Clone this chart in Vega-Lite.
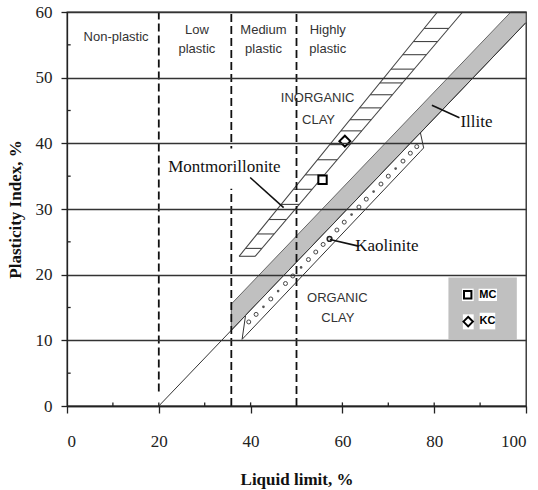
{
  "$schema": "https://vega.github.io/schema/vega-lite/v6.json",
  "width": 459,
  "height": 394,
  "autosize": {"type": "none"},
  "padding": {"left": 67, "top": 12, "right": 12, "bottom": 84},
  "background": "white",
  "config": {
    "view": {"stroke": "#222", "strokeWidth": 1.3}
  },
  "encoding": {
    "x": {
      "field": "LL", "type": "quantitative",
      "scale": {"domain": [0, 100], "nice": false},
      "axis": {
        "values": [0, 20, 40, 60, 80, 100], "title": "Liquid limit, %", "grid": false,
        "tickSize": 7, "tickColor": "#222", "tickWidth": 1.3, "domainColor": "#222", "domainWidth": 1.3,
        "labelFont": "Liberation Serif", "labelFontSize": 17, "labelColor": "#222", "labelPadding": 20,
        "titleFont": "Liberation Serif", "titleFontSize": 17, "titleFontWeight": "bold", "titleColor": "#111", "titlePadding": 22,
        "zindex": 1
      }
    },
    "y": {
      "field": "PI", "type": "quantitative",
      "scale": {"domain": [0, 60], "nice": false},
      "axis": {
        "values": [0, 10, 20, 30, 40, 50, 60], "title": "Plasticity Index, %", "grid": true,
        "gridColor": "#333", "gridWidth": 1.3,
        "tickSize": 6, "tickColor": "#222", "tickWidth": 1.3, "domainColor": "#222", "domainWidth": 1.3,
        "labelFont": "Liberation Serif", "labelFontSize": 17, "labelColor": "#222", "labelPadding": 9,
        "titleFont": "Liberation Serif", "titleFontSize": 17, "titleFontWeight": "bold", "titleColor": "#111", "titlePadding": 11,
        "zindex": 1
      }
    }
  },
  "layer": [
    {
      "data": {"values": [
        {"LL": 35.8, "PI": 11.53, "PI2": 15.53},
        {"LL": 96.7, "PI": 55.99, "PI2": 60},
        {"LL": 100, "PI": 58.4, "PI2": 60}
      ]},
      "mark": {"type": "area", "fill": "#c0c0c0", "stroke": "#666", "strokeWidth": 1},
      "encoding": {"y2": {"field": "PI2"}}
    },
    {
      "data": {"values": [{"LL": 20, "PI": 0}, {"LL": 100, "PI": 58.4}]},
      "mark": {"type": "line", "color": "#333", "strokeWidth": 1}
    },
    {
      "data": {"values": [
        {"LL": 38.15, "PI": 10.15, "PI2": 10.15},
        {"LL": 38.9, "PI": 10.7, "PI2": 13.8},
        {"LL": 77, "PI": 38.78, "PI2": 41.6},
        {"LL": 77.7, "PI": 39.3, "PI2": 39.3}
      ]},
      "mark": {"type": "area", "fill": "white", "stroke": "#333", "strokeWidth": 1},
      "encoding": {"y2": {"field": "PI2"}}
    },
    {
      "data": {"values": [
        {"LL": 39.6, "PI": 12.8}, {"LL": 41.2, "PI": 13.95}, {"LL": 44.4, "PI": 16.3},
        {"LL": 47.6, "PI": 18.65}, {"LL": 49.2, "PI": 19.8}, {"LL": 52.6, "PI": 22.3},
        {"LL": 54.2, "PI": 23.45}, {"LL": 55.8, "PI": 24.6}, {"LL": 58.8, "PI": 26.8},
        {"LL": 60.4, "PI": 28.0}, {"LL": 63.6, "PI": 30.3}, {"LL": 65.2, "PI": 31.5},
        {"LL": 68.4, "PI": 33.8}, {"LL": 70.0, "PI": 35.0}, {"LL": 73.2, "PI": 37.3},
        {"LL": 74.8, "PI": 38.5}, {"LL": 76.2, "PI": 39.5}
      ]},
      "mark": {"type": "point", "shape": "circle", "filled": true, "fill": "white", "stroke": "#444", "strokeWidth": 1, "size": 16, "opacity": 1}
    },
    {
      "data": {"values": [
        {"LL": 42.8, "PI": 15.1}, {"LL": 46.0, "PI": 17.5}, {"LL": 51.0, "PI": 21.1},
        {"LL": 62.0, "PI": 29.15}, {"LL": 66.8, "PI": 32.65}, {"LL": 71.6, "PI": 36.15}
      ]},
      "mark": {"type": "point", "shape": "circle", "filled": true, "color": "#555", "size": 7, "opacity": 1}
    },
    {
      "data": {"values": [{"LL": 57.2, "PI": 25.45}]},
      "mark": {"type": "point", "shape": "circle", "filled": true, "fill": "#ddd", "stroke": "#222", "strokeWidth": 1.5, "size": 22, "opacity": 1}
    },
    {
      "data": {"values": [
        {"LL": 37.5, "PI": 22.8, "LL2": 80.7, "PI2": 60},
        {"LL": 41.0, "PI": 22.8, "LL2": 86.2, "PI2": 60},
        {"LL": 37.5, "PI": 22.8, "LL2": 41.0, "PI2": 22.8},
        {"LL": 38.89, "PI": 24.0, "LL2": 42.46, "PI2": 24.0},
        {"LL": 41.45, "PI": 26.2, "LL2": 45.13, "PI2": 26.2},
        {"LL": 44.0, "PI": 28.4, "LL2": 47.8, "PI2": 28.4},
        {"LL": 46.67, "PI": 30.7, "LL2": 50.6, "PI2": 30.7},
        {"LL": 49.35, "PI": 33.0, "LL2": 53.39, "PI2": 33.0},
        {"LL": 51.9, "PI": 35.2, "LL2": 56.07, "PI2": 35.2},
        {"LL": 54.57, "PI": 37.5, "LL2": 58.86, "PI2": 37.5},
        {"LL": 57.24, "PI": 39.8, "LL2": 61.66, "PI2": 39.8},
        {"LL": 59.68, "PI": 41.9, "LL2": 64.21, "PI2": 41.9},
        {"LL": 61.65, "PI": 43.6, "LL2": 66.27, "PI2": 43.6},
        {"LL": 63.74, "PI": 45.4, "LL2": 68.46, "PI2": 45.4},
        {"LL": 66.07, "PI": 47.4, "LL2": 70.89, "PI2": 47.4},
        {"LL": 68.16, "PI": 49.2, "LL2": 73.08, "PI2": 49.2},
        {"LL": 70.6, "PI": 51.3, "LL2": 75.63, "PI2": 51.3},
        {"LL": 73.15, "PI": 53.5, "LL2": 78.3, "PI2": 53.5},
        {"LL": 75.47, "PI": 55.5, "LL2": 80.73, "PI2": 55.5},
        {"LL": 77.8, "PI": 57.5, "LL2": 83.16, "PI2": 57.5}
      ]},
      "mark": {"type": "rule", "color": "#444", "strokeWidth": 1.1},
      "encoding": {"x2": {"field": "LL2"}, "y2": {"field": "PI2"}}
    },
    {
      "data": {"values": [
        {"LL": 20, "PI": 2.2, "PI2": 60},
        {"LL": 35.8, "PI": 0, "PI2": 60},
        {"LL": 50, "PI": 0, "PI2": 60}
      ]},
      "mark": {"type": "rule", "color": "#111", "strokeWidth": 1.8, "strokeDash": [8, 4]},
      "encoding": {"y2": {"field": "PI2"}}
    },
    {
      "data": {"values": [
        {"LL": 10, "PI": 0, "PI2": 0.55}, {"LL": 20, "PI": 0, "PI2": 0.55}, {"LL": 30, "PI": 0, "PI2": 0.55},
        {"LL": 40, "PI": 0, "PI2": 0.55}, {"LL": 60, "PI": 0, "PI2": 0.55}, {"LL": 70, "PI": 0, "PI2": 0.55},
        {"LL": 80, "PI": 0, "PI2": 0.55}, {"LL": 90, "PI": 0, "PI2": 0.55}
      ]},
      "mark": {"type": "rule", "color": "#222", "strokeWidth": 1.3},
      "encoding": {"y2": {"field": "PI2"}}
    },
    {
      "data": {"values": [
        {"LL": 0, "LL2": 0.8, "PI": 5}, {"LL": 0, "LL2": 0.8, "PI": 15}, {"LL": 0, "LL2": 0.8, "PI": 25},
        {"LL": 0, "LL2": 0.8, "PI": 35}, {"LL": 0, "LL2": 0.8, "PI": 45}, {"LL": 0, "LL2": 0.8, "PI": 55}
      ]},
      "mark": {"type": "rule", "color": "#222", "strokeWidth": 1.3},
      "encoding": {"x2": {"field": "LL2"}}
    },
    {
      "data": {"values": [{"LL": 22.6, "LL2": 46, "PI": 33.1, "PI2": 39.2}]},
      "mark": {"type": "rect", "fill": "white"},
      "encoding": {"x2": {"field": "LL2"}, "y2": {"field": "PI2"}}
    },
    {
      "data": {"values": [
        {"LL": 39.9, "PI": 34.8, "LL2": 47.2, "PI2": 30.2},
        {"LL": 79.5, "PI": 45.8, "LL2": 85.5, "PI2": 43.9},
        {"LL": 57.3, "PI": 25.35, "LL2": 63.5, "PI2": 24.35}
      ]},
      "mark": {"type": "rule", "color": "#111", "strokeWidth": 1.6},
      "encoding": {"x2": {"field": "LL2"}, "y2": {"field": "PI2"}}
    },
    {
      "data": {"values": [{"LL": 55.67, "PI": 34.46}]},
      "mark": {"type": "point", "shape": "square", "filled": true, "fill": "white", "stroke": "#000", "strokeWidth": 2, "size": 70, "opacity": 1}
    },
    {
      "data": {"values": [{"LL": 60.54, "PI": 40.33}]},
      "mark": {"type": "point", "shape": "diamond", "filled": true, "fill": "white", "stroke": "#000", "strokeWidth": 2, "size": 120, "opacity": 1}
    },
    {
      "data": {"values": [{"LL": 83.1, "LL2": 98.0, "PI": 10.15, "PI2": 19.55}]},
      "mark": {"type": "rect", "fill": "#c0c0c0"},
      "encoding": {"x2": {"field": "LL2"}, "y2": {"field": "PI2"}}
    },
    {
      "data": {"values": [
        {"LL": 86.05, "LL2": 88.6, "PI": 15.98, "PI2": 17.87},
        {"LL": 86.25, "LL2": 88.6, "PI": 11.67, "PI2": 13.96},
        {"LL": 89.67, "LL2": 93.68, "PI": 15.98, "PI2": 17.87},
        {"LL": 89.9, "LL2": 93.3, "PI": 11.67, "PI2": 14.2}
      ]},
      "mark": {"type": "rect", "fill": "white"},
      "encoding": {"x2": {"field": "LL2"}, "y2": {"field": "PI2"}}
    },
    {
      "data": {"values": [{"LL": 87.3, "PI": 16.95}]},
      "mark": {"type": "point", "shape": "square", "filled": true, "fill": "white", "stroke": "#000", "strokeWidth": 2, "size": 55, "opacity": 1}
    },
    {
      "data": {"values": [{"LL": 87.4, "PI": 12.85}]},
      "mark": {"type": "point", "shape": "diamond", "filled": true, "fill": "white", "stroke": "#000", "strokeWidth": 2, "size": 90, "opacity": 1}
    },
    {
      "data": {"values": [{"LL": 91.7, "PI": 16.95, "label": "MC"}, {"LL": 91.6, "PI": 12.9, "label": "KC"}]},
      "mark": {"type": "text", "font": "Liberation Sans", "fontSize": 11, "fontWeight": "bold", "color": "#000"},
      "encoding": {"text": {"field": "label"}}
    },
    {
      "data": {"values": [
        {"LL": 10.7, "PI": 56.2, "label": "Non-plastic"},
        {"LL": 28.3, "PI": 57.3, "label": "Low"},
        {"LL": 28.3, "PI": 54.3, "label": "plastic"},
        {"LL": 42.8, "PI": 57.3, "label": "Medium"},
        {"LL": 42.8, "PI": 54.3, "label": "plastic"},
        {"LL": 56.8, "PI": 57.3, "label": "Highly"},
        {"LL": 56.8, "PI": 54.3, "label": "plastic"},
        {"LL": 54.6, "PI": 46.9, "label": "INORGANIC"},
        {"LL": 54.8, "PI": 43.6, "label": "CLAY"},
        {"LL": 58.9, "PI": 16.5, "label": "ORGANIC"},
        {"LL": 59.0, "PI": 13.35, "label": "CLAY"}
      ]},
      "mark": {"type": "text", "font": "Liberation Sans", "fontSize": 13, "color": "#333"},
      "encoding": {"text": {"field": "label"}}
    },
    {
      "data": {"values": [
        {"LL": 34.3, "PI": 36.4, "label": "Montmorillonite"},
        {"LL": 89.2, "PI": 43.3, "label": "Illite"},
        {"LL": 69.7, "PI": 24.3, "label": "Kaolinite"}
      ]},
      "mark": {"type": "text", "font": "Liberation Serif", "fontSize": 17, "color": "#111"},
      "encoding": {"text": {"field": "label"}}
    }
  ]
}
